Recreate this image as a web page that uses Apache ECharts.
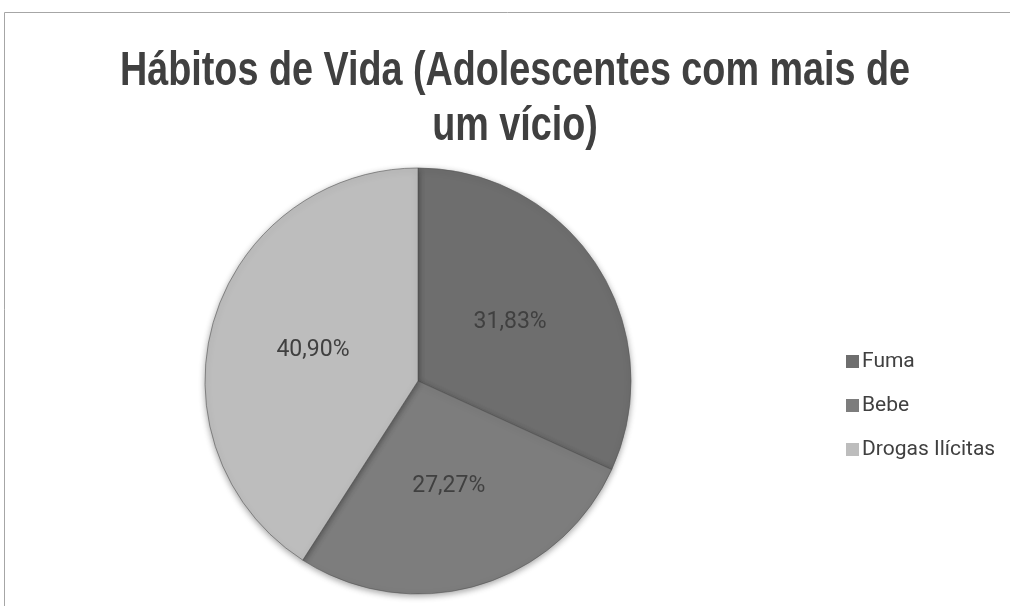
<!DOCTYPE html>
<html><head><meta charset="utf-8">
<script src="https://cdn.jsdelivr.net/npm/echarts@6/dist/echarts.min.js"></script>
<style>html,body{margin:0;padding:0;background:#fff}#c{width:1010px;height:606px}</style>
</head><body><div id="c"></div>
<script>
const categories = ['Fuma', 'Bebe', 'Drogas Ilícitas'];
const values = [31.83, 27.27, 40.90];
const colors = ['#6e6e6e', '#7d7d7d', '#bdbdbd'];
const titleLines = ['Hábitos de Vida (Adolescentes com mais de', 'um vício)'];

const titleFont = 'bold 48px "Liberation Sans", Arial, sans-serif';
const ctx = document.createElement('canvas').getContext('2d');
ctx.font = titleFont;
const titleScale = 790 / ctx.measureText(titleLines[0]).width;

const chart = echarts.init(document.getElementById('c'), null, {renderer: 'canvas'});
chart.setOption({
  animation: false,
  backgroundColor: '#fff',
  legend: {
    orient: 'vertical', left: 841, top: 346,
    itemWidth: 13, itemHeight: 13, itemGap: 23,
    icon: 'rect',
    data: categories,
    itemStyle: {borderWidth: 0},
    textStyle: {fontFamily: 'Roboto, sans-serif', fontSize: 21, color: '#404040', padding: [0,0,0,-2]}
  },
  graphic: [{
    type: 'polyline', silent: true,
    shape: {points: [[4.5, 606], [4.5, 12.5], [1010, 12.5]]},
    style: {stroke: '#a6a6a6', lineWidth: 1, fill: null}
  }, {
    type: 'text', silent: true,
    x: 515, y: 44, scaleX: titleScale,
    style: {
      text: titleLines.join('\n'),
      font: titleFont,
      fill: '#404040',
      align: 'center', verticalAlign: 'top',
      lineHeight: 55
    }
  }],
  series: [{
    type: 'pie',
    center: [418, 381], radius: 213,
    startAngle: 90, clockwise: true,
    data: categories.map((c, i) => ({name: c, value: values[i], itemStyle: {color: colors[i]}})),
    itemStyle: {borderColor: '#555', borderWidth: 0.6, shadowBlur: 6, shadowColor: 'rgba(0,0,0,0.35)', shadowOffsetY: 2},
    label: {
      show: true, position: 'inside',
      formatter: p => p.value.toFixed(2).replace('.', ',') + '%',
      fontFamily: 'Roboto, sans-serif', fontSize: 23, color: '#404040'
    },
    labelLine: {show: false},
    emphasis: {disabled: true}
  }]
});
</script></body></html>
